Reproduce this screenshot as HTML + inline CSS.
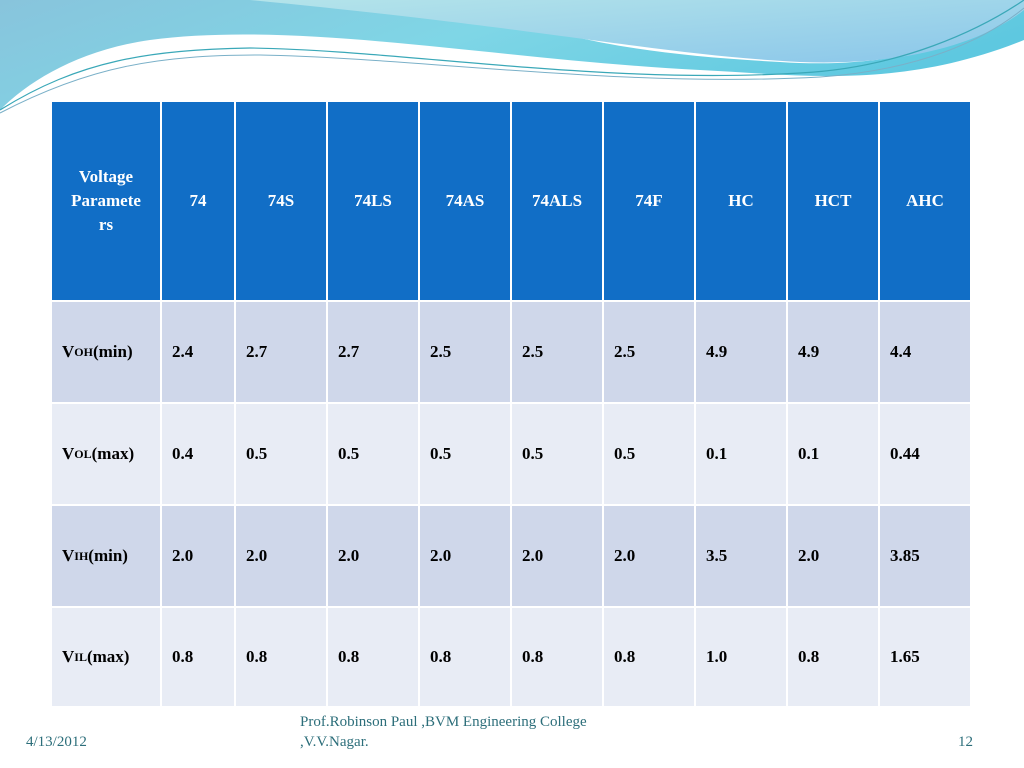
<!DOCTYPE html>
<html><head><meta charset="utf-8"><style>
body{margin:0;width:1024px;height:768px;position:relative;background:#fff;overflow:hidden;font-family:"Liberation Serif",serif}
.c{position:absolute;box-sizing:border-box;display:flex;align-items:center;font-weight:bold;font-size:17px;color:#000}
.h{background:#116ec6;color:#fff;justify-content:center;text-align:center;line-height:24px}
.r1{background:#cfd7ea;padding-left:10px}
.r2{background:#e8ecf5;padding-left:10px}
sub{font-size:12px;vertical-align:-4px}
.f{position:absolute;font-family:"Liberation Serif",serif;color:#2c6e7a;font-size:15px}
</style></head><body>
<svg width="1024" height="120" style="position:absolute;left:0;top:0">
<defs>
<linearGradient id="g1" x1="0" y1="0" x2="1" y2="0.3"><stop offset="0" stop-color="#88c4dc"/><stop offset="0.5" stop-color="#7fd6e6"/><stop offset="1" stop-color="#5ec8e0"/></linearGradient>
<linearGradient id="g2" x1="0" y1="0" x2="1" y2="1"><stop offset="0" stop-color="#b4e4ea"/><stop offset="1" stop-color="#8ac6ea"/></linearGradient>
</defs>
<path d="M0,0 H1024 V40 C900,90 800,75 700,70 C500,60 300,20 150,40 C80,50 30,80 0,110 Z" fill="url(#g1)"/>
<path d="M230,0 H1024 V0 C980,40 900,70 780,62 C650,55 550,40 470,0 Z" fill="#fff"/>
<path d="M250,0 H1024 V10 C980,45 900,66 800,62 C660,55 560,30 250,0 Z" fill="url(#g2)"/>
<path d="M0,110 C80,60 150,50 250,48 C400,50 600,85 800,73 C900,68 980,30 1024,0" stroke="#3aa8b8" stroke-width="1.2" fill="none"/>
<path d="M0,113 C90,66 160,55 260,55 C420,58 620,88 820,77 C920,70 985,40 1024,8" stroke="#7ab0c8" stroke-width="1" fill="none"/>
</svg>
<div id="tbl"></div>
<div class="f" style="left:26px;top:734px">4/13/2012</div>
<div class="f" style="left:300px;top:712px;line-height:20px">Prof.Robinson Paul ,BVM Engineering College<br>,V.V.Nagar.</div>
<div class="f" style="left:958px;top:734px">12</div>
<script>
const headers=["Voltage<br>Paramete<br>rs","74","74S","74LS","74AS","74ALS","74F","HC","HCT","AHC"];
const rowLabels=["V<sub>OH</sub>(min)","V<sub>OL</sub>(max)","V<sub>IH</sub>(min)","V<sub>IL</sub>(max)"];
const rowNames=["voh-min","vol-max","vih-min","vil-max"];
const values=[["2.4","2.7","2.7","2.5","2.5","2.5","4.9","4.9","4.4"],["0.4","0.5","0.5","0.5","0.5","0.5","0.1","0.1","0.44"],["2.0","2.0","2.0","2.0","2.0","2.0","3.5","2.0","3.85"],["0.8","0.8","0.8","0.8","0.8","0.8","1.0","0.8","1.65"]];
const xs=[52,162,236,328,420,512,604,696,788,880,972];
const ys=[102,302,404,506,608,708];
const t=document.getElementById('tbl');
function cell(cls,html,c,r){const d=document.createElement('div');d.className='c '+cls;d.innerHTML=html;
d.style.left=xs[c]+'px';d.style.top=ys[r]+'px';d.style.width=(xs[c+1]-xs[c]-2)+'px';d.style.height=(ys[r+1]-ys[r]-2)+'px';t.appendChild(d);return d;}
headers.forEach((h,i)=>{const d=cell('h',h,i,0);

});
values.forEach((row,r)=>{const cls=r%2?'r2':'r1';
const l=cell(cls,rowLabels[r],0,r+1);


row.forEach((v,c)=>{const d=cell(cls,v,c+1,r+1);

});});
</script>
</body></html>
